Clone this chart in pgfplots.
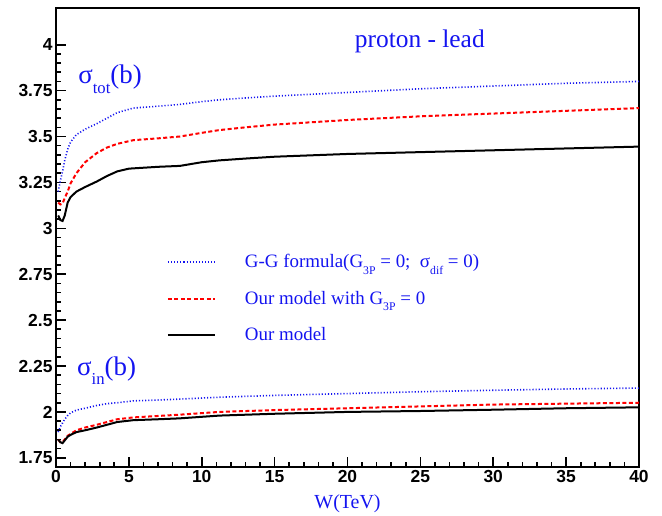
\documentclass[border=0pt]{standalone}
\usepackage{fontspec}
\setmainfont{Liberation Serif}
\setsansfont{Liberation Sans}
\usepackage{pgfplots}
\pgfplotsset{compat=1.18}
\definecolor{lblue}{RGB}{20,20,240}
\newcommand{\sub}[1]{\raisebox{-0.35em}{\fontsize{0.62em}{0.62em}\selectfont #1}}
\begin{document}
\begin{tikzpicture}
\path[use as bounding box] (-56bp,-49bp) rectangle (606bp,467bp);
\begin{axis}[
  scale only axis, width=583bp, height=459bp,
  xmin=0, xmax=40, ymin=1.7, ymax=4.2,
  xtick={0,5,...,40}, ytick={1.75,2,...,4},
  minor x tick num=4, minor y tick num=4,
  tick pos=left, tick align=inside,
  major tick length=10bp, minor tick length=5bp,
  every tick/.style={black, line width=1.6bp},
  axis line style={line width=2bp},
  /pgf/number format/assume math mode=true,
  ticklabel style={font=\fontsize{17.5}{17.5}\selectfont\sffamily\bfseries},
  xlabel={W(TeV)},
  xlabel style={font=\fontsize{20}{20}\selectfont, text=lblue, yshift=-5bp},
  legend style={at={(0.19,0.468)}, anchor=north west, draw=none, fill=none,
    font=\fontsize{19}{19}\selectfont, text=lblue, inner sep=0pt, row sep=18bp,
    nodes={inner sep=2bp},
    /tikz/every odd column/.append style={column sep=27bp}},
  legend cell align=left,
  legend image code/.code={\draw[#1] (0bp,0bp) -- (47bp,0bp);},
]
\addplot[lblue, line width=1.6bp, dash pattern=on 1.1bp off 2bp] coordinates {
(0.15,3.2) (0.3,3.26) (0.45,3.31) (0.6,3.37) (0.8,3.43) (1.0,3.47) (1.4,3.51) (2.0,3.54) (2.8,3.57) (3.5,3.60) (4.2,3.63) (5.3,3.655) (7,3.665) (8.5,3.675) (10,3.69) (11.2,3.70) (13,3.71) (15,3.72) (20,3.74) (25,3.76) (30,3.775) (35,3.79) (40,3.80)};
\addlegendentry{G-G formula(G\sub{3P} = 0;\ \ σ\sub{dif} = 0)}
\addplot[red, line width=2bp, dash pattern=on 4bp off 2.5bp] coordinates {
(0.15,3.14) (0.3,3.13) (0.45,3.135) (0.6,3.165) (0.8,3.20) (1.0,3.245) (1.4,3.30) (2.0,3.36) (2.8,3.41) (3.5,3.44) (4.2,3.46) (5.3,3.48) (7,3.49) (8.5,3.50) (10,3.52) (11.2,3.535) (13,3.55) (15,3.565) (20,3.59) (25,3.61) (30,3.625) (35,3.64) (40,3.655)};
\addlegendentry{Our model with G\sub{3P} = 0}
\addplot[black, line width=2bp] coordinates {
(0.15,3.07) (0.3,3.045) (0.45,3.04) (0.6,3.07) (0.8,3.14) (1.0,3.17) (1.4,3.20) (2.0,3.225) (2.8,3.255) (3.5,3.285) (4.2,3.31) (5.0,3.325) (6,3.33) (7,3.335) (8.5,3.34) (10,3.36) (11.2,3.37) (13,3.38) (15,3.39) (20,3.405) (25,3.415) (30,3.425) (35,3.435) (40,3.445)};
\addlegendentry{Our model}
\addplot[lblue, line width=1.6bp, dash pattern=on 1.1bp off 2bp, forget plot] coordinates {
(0.15,1.89) (0.3,1.92) (0.45,1.94) (0.6,1.96) (0.8,1.98) (1.0,1.995) (1.4,2.01) (2.0,2.02) (2.8,2.035) (3.5,2.045) (4.2,2.05) (5.3,2.06) (7,2.065) (8.5,2.07) (11.2,2.08) (15,2.09) (20,2.10) (25,2.11) (30,2.118) (35,2.125) (40,2.13)};
\addplot[red, line width=2bp, dash pattern=on 4bp off 2.5bp, forget plot] coordinates {
(0.15,1.85) (0.3,1.835) (0.45,1.835) (0.6,1.85) (0.8,1.87) (1.0,1.88) (1.4,1.90) (2.0,1.915) (2.8,1.93) (3.5,1.945) (4.2,1.96) (5.3,1.97) (7,1.978) (8.5,1.985) (11.2,2.0) (15,2.01) (20,2.02) (25,2.03) (30,2.04) (35,2.045) (40,2.05)};
\addplot[black, line width=2bp, forget plot] coordinates {
(0.15,1.85) (0.3,1.835) (0.45,1.83) (0.6,1.845) (0.8,1.865) (1.0,1.875) (1.4,1.89) (2.0,1.90) (2.8,1.915) (3.5,1.93) (4.2,1.945) (5.3,1.955) (7,1.96) (8.5,1.965) (11.2,1.98) (15,1.99) (20,2.0) (25,2.005) (30,2.012) (35,2.02) (40,2.025)};
\node[text=lblue, font=\fontsize{25.5}{25.5}\selectfont] at (axis description cs:0.624,0.928) {proton - lead};
\node[text=lblue, font=\fontsize{27}{27}\selectfont, anchor=west, inner sep=0pt] at (axis description cs:0.038,0.845) {σ\sub{tot}(b)};
\node[text=lblue, font=\fontsize{27}{27}\selectfont, anchor=west, inner sep=0pt] at (axis description cs:0.036,0.21) {σ\sub{in}(b)};
\end{axis}
\end{tikzpicture}
\end{document}
